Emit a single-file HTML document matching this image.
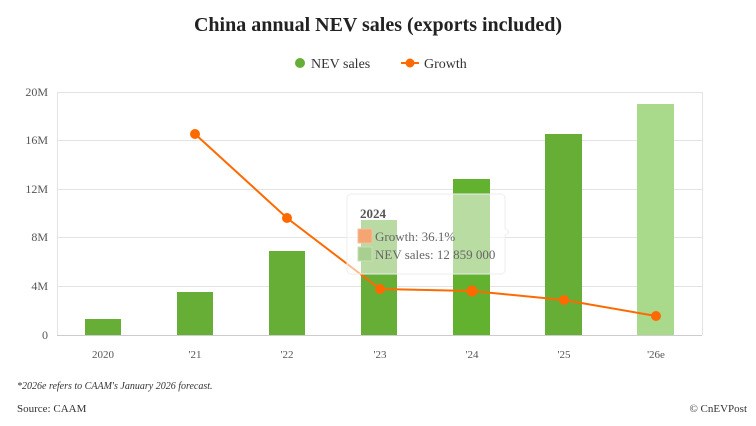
<!DOCTYPE html>
<html><head><meta charset="utf-8"><style>
body{margin:0;width:756px;height:421px;background:#fff;overflow:hidden;font-family:"Liberation Serif",serif}
</style></head><body>
<svg width="756" height="421" xmlns="http://www.w3.org/2000/svg" font-family="Liberation Serif, serif">
<text x="378" y="31" text-anchor="middle" font-size="20" font-weight="bold" fill="#222">China annual NEV sales (exports included)</text>
<circle cx="300" cy="63" r="5" fill="#67ae36"/>
<text x="311" y="68" font-size="14" fill="#333">NEV sales</text>
<line x1="401" y1="63" x2="419" y2="63" stroke="#ff6a00" stroke-width="2"/>
<circle cx="410" cy="63" r="4.5" fill="#ff6a00"/>
<text x="424" y="68" font-size="14" fill="#333">Growth</text>
<g stroke="#e3e3e3" stroke-width="1">
<line x1="57" y1="92.5" x2="702" y2="92.5"/><line x1="57" y1="140.5" x2="702" y2="140.5"/>
<line x1="57" y1="189.5" x2="702" y2="189.5"/><line x1="57" y1="237.5" x2="702" y2="237.5"/>
<line x1="57" y1="286.5" x2="702" y2="286.5"/>
<line x1="57.5" y1="92" x2="57.5" y2="335"/><line x1="702.5" y1="92" x2="702.5" y2="335"/>
</g>
<line x1="57" y1="335.5" x2="702" y2="335.5" stroke="#ccc"/>
<g font-size="12" fill="#555" text-anchor="end">
<text x="48" y="96">20M</text><text x="48" y="144">16M</text><text x="48" y="193">12M</text>
<text x="48" y="241">8M</text><text x="48" y="290">4M</text><text x="48" y="339">0</text>
</g>
<g font-size="11" fill="#555" text-anchor="middle">
<text x="103" y="358">2020</text><text x="195" y="358">'21</text><text x="287" y="358">'22</text>
<text x="380" y="358">'23</text><text x="472" y="358">'24</text><text x="564" y="358">'25</text><text x="656" y="358">'26e</text>
</g>
<g fill="#67ae36">
<rect x="85" y="319" width="36" height="16"/>
<rect x="177" y="292" width="36" height="43"/>
<rect x="269" y="251" width="36" height="84"/>
<rect x="361" y="220" width="36" height="115"/>
<rect x="453" y="179" width="37" height="156" fill="#62b12f"/>
<rect x="545" y="134" width="37" height="201"/>
</g>
<rect x="637" y="104" width="37" height="231" fill="#a9d98b"/>
<polyline points="195,134 287,218 380,289 472,291 564,300 656,316" fill="none" stroke="#ff6a00" stroke-width="2"/>
<g fill="#ff6a00">
<circle cx="195" cy="134" r="5"/><circle cx="287" cy="218" r="5"/><circle cx="380" cy="289" r="5"/>
<circle cx="472" cy="291" r="5.5"/><circle cx="564" cy="300" r="5"/><circle cx="656" cy="316" r="5"/>
</g>
<path d="M351,194 H501 a4,4 0 0 1 4,4 V228 l4,4 l-4,4 V270 a4,4 0 0 1 -4,4 H351 a4,4 0 0 1 -4,-4 V198 a4,4 0 0 1 4,-4z" fill="rgba(255,255,255,0.55)" stroke="#eee"/>
<text x="360" y="218" font-size="13" font-weight="bold" fill="#555">2024</text>
<rect x="358" y="229" width="14" height="14" fill="#f4a571" stroke="#f6c09c"/>
<text x="375" y="241" font-size="13" fill="#666">Growth: 36.1%</text>
<rect x="358" y="247" width="14" height="14" fill="#a9cf90" stroke="#c6e2b4"/>
<text x="375" y="259" font-size="13" fill="#666">NEV sales: 12 859 000</text>
<text x="17" y="389" font-size="10" font-style="italic" fill="#333">*2026e refers to CAAM's January 2026 forecast.</text>
<text x="17" y="412" font-size="11" fill="#333">Source: CAAM</text>
<text x="747" y="412" font-size="11" fill="#333" text-anchor="end">© CnEVPost</text>
</svg>
</body></html>
